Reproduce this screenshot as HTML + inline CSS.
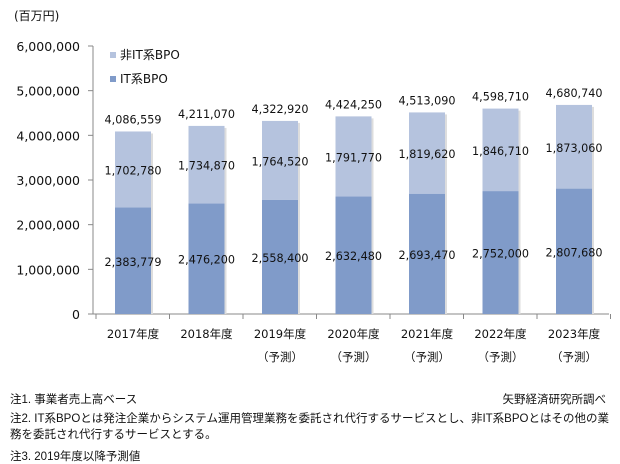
<!DOCTYPE html>
<html><head><meta charset="utf-8"><style>
body{margin:0;background:#fff;width:620px;height:462px;overflow:hidden;font-family:"Liberation Sans","Noto Sans CJK JP",sans-serif;}
svg text{font-family:"DejaVu Sans","Noto Sans CJK JP",sans-serif;fill:#111;}
.n{position:absolute;font-size:11.5px;color:#111;left:10px;white-space:nowrap;}
</style></head><body>
<svg id="c" width="620" height="462" style="position:absolute;left:0;top:0">
<text x="14" y="20" font-size="12">(百万円)</text>
</svg>
<div class="n" style="top:391px">注1. 事業者売上高ベース</div>
<div class="n" style="top:391px;left:auto;right:14px">矢野経済研究所調べ</div>
<div class="n" style="top:410px">注2. IT系BPOとは発注企業からシステム運用管理業務を委託され代行するサービスとし、非IT系BPOとはその他の業<br>務を委託され代行するサービスとする。</div>
<div class="n" style="top:448px">注3. 2019年度以降予測値</div>
<script>
const categories=["2017年度","2018年度","2019年度","2020年度","2021年度","2022年度","2023年度"];
const subLabels=["","","（予測）","（予測）","（予測）","（予測）","（予測）"];
const itValues=[2383779,2476200,2558400,2632480,2693470,2752000,2807680];
const nonItValues=[1702780,1734870,1764520,1791770,1819620,1846710,1873060];
const totals=[4086559,4211070,4322920,4424250,4513090,4598710,4680740];
const yTicks=[0,1000000,2000000,3000000,4000000,5000000,6000000];
const svg=document.getElementById('c');const NS="http://www.w3.org/2000/svg";
const y=v=>314-v/6000000*268;
const xc=i=>133+73.5*i;
const fmt=v=>v.toLocaleString('en-US');
function mk(t,a,p){const e=document.createElementNS(NS,t);for(const k in a)e.setAttribute(k,a[k]);(p||svg).appendChild(e);return e;}
let ax=mk('line',{x1:93,y1:46,x2:93,y2:314,stroke:'#888'});


let bx=mk('line',{x1:93,y1:314,x2:609,y2:314,stroke:'#888'});


yTicks.forEach(v=>{mk('line',{x1:88,y1:y(v),x2:93,y2:y(v),stroke:'#888'});
let t=mk('text',{x:80,y:y(v)+5,'text-anchor':'end','font-size':12.5});t.textContent=fmt(v);

});
for(let i=0;i<=categories.length;i++)mk('line',{x1:96+73.5*i,y1:314,x2:96+73.5*i,y2:319,stroke:'#888'});
categories.forEach((c,i)=>{
const x=xc(i)-18;
let b1=mk('rect',{x:x,y:y(itValues[i]),width:36,height:314-y(itValues[i]),fill:'#809bc9'});


let top=itValues[i]+nonItValues[i];
let b2=mk('rect',{x:x,y:y(top),width:36,height:y(itValues[i])-y(top),fill:'#b5c3de'});


mk('rect',{x:x+36,y:y(top)+2,width:2,height:314-y(top)-2,fill:'#ddd'});
let t1=mk('text',{x:xc(i),y:(y(itValues[i])+314)/2+5,'text-anchor':'middle','font-size':11.2});t1.textContent=fmt(itValues[i]);


let t2=mk('text',{x:xc(i),y:(y(top)+y(itValues[i]))/2+5,'text-anchor':'middle','font-size':11.2});t2.textContent=fmt(nonItValues[i]);


let t3=mk('text',{x:xc(i),y:y(totals[i])-8,'text-anchor':'middle','font-size':11.2});t3.textContent=fmt(totals[i]);


let t4=mk('text',{x:xc(i),y:338,'text-anchor':'middle','font-size':11.5});t4.textContent=c;


if(subLabels[i]){let t5=mk('text',{x:xc(i),y:361,'text-anchor':'middle','font-size':11.5});t5.textContent=subLabels[i];

}
});
let g=mk('g',{});


mk('rect',{x:110,y:52,width:6,height:6,fill:'#b5c3de'},g);
let l1=mk('text',{x:120,y:59,'font-size':12},g);l1.textContent='非IT系BPO';
mk('rect',{x:110,y:76,width:6,height:6,fill:'#809bc9'},g);
let l2=mk('text',{x:120,y:83,'font-size':12},g);l2.textContent='IT系BPO';
</script>
</body></html>
